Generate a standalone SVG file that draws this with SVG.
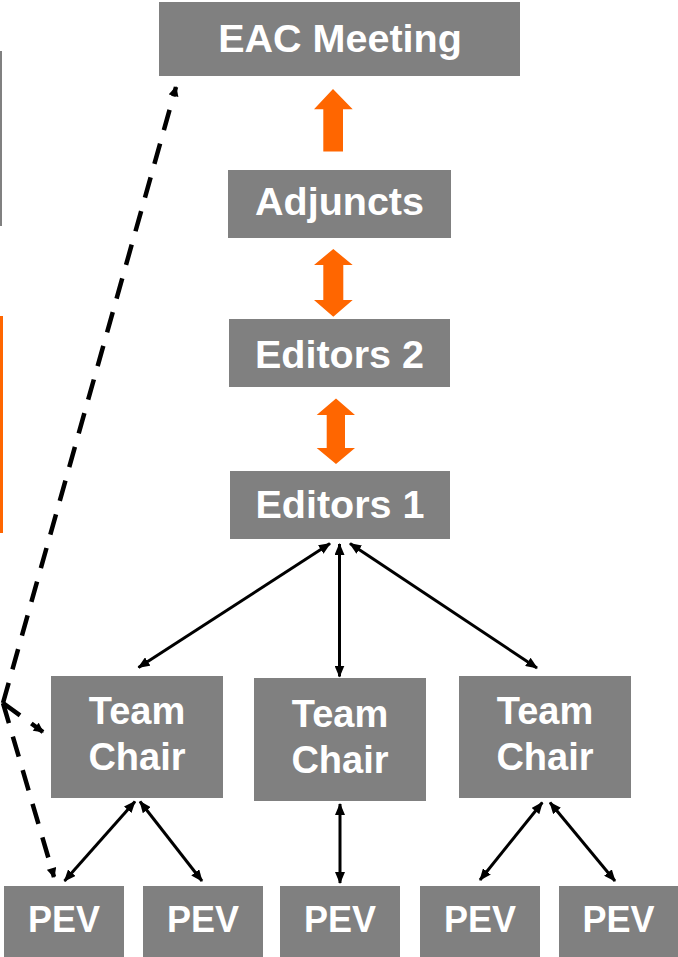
<svg xmlns="http://www.w3.org/2000/svg" width="678" height="957" viewBox="0 0 678 957">
  <style>
    .box { fill: #808080; }
    .lbl { fill: #ffffff; font-family: "Liberation Sans", Arial, sans-serif; font-weight: bold; font-size: 38px; text-anchor: middle; }
    .wide { font-size: 39.5px; }
    .pev { font-size: 36px; }
    .link { stroke: #000000; stroke-width: 3; fill: none; marker-start: url(#head); marker-end: url(#head); }
    .dash { stroke: #000000; stroke-width: 4.5; fill: none; stroke-dasharray: 21 14; }
    .flow { fill: #ff6600; }
  </style>
  <defs>
    <marker id="head" viewBox="0 0 12 10" refX="11" refY="5" markerWidth="12" markerHeight="10" markerUnits="userSpaceOnUse" orient="auto-start-reverse">
      <path d="M0,0 L12,5 L0,10 z" fill="#000000"/>
    </marker>
    <marker id="dhead" viewBox="0 0 10 10" refX="9" refY="5" markerWidth="11" markerHeight="10" markerUnits="userSpaceOnUse" orient="auto">
      <path d="M0,0 L10,5 L0,10 z" fill="#000000"/>
    </marker>
  </defs>

  <!-- side bars at the left edge -->
  <rect x="0" y="51" width="2" height="175" fill="#808080"/>
  <rect x="0" y="316" width="3" height="217" fill="#ff6600"/>

  <!-- nodes -->
  <g id="eac-meeting">
    <rect class="box" x="159" y="2" width="361" height="74"/>
    <text class="lbl wide" x="340" y="52">EAC Meeting</text>
  </g>
  <g id="adjuncts">
    <rect class="box" x="228" y="170" width="223" height="68"/>
    <text class="lbl wide" x="339.5" y="215">Adjuncts</text>
  </g>
  <g id="editors-2">
    <rect class="box" x="229" y="319" width="221" height="68"/>
    <text class="lbl wide" x="339.5" y="368">Editors 2</text>
  </g>
  <g id="editors-1">
    <rect class="box" x="230" y="471" width="220" height="68"/>
    <text class="lbl wide" x="340" y="518">Editors 1</text>
  </g>
  <g id="team-chair-1">
    <rect class="box" x="51" y="676" width="172" height="122"/>
    <text class="lbl" x="137" y="724">Team</text>
    <text class="lbl" x="137" y="770">Chair</text>
  </g>
  <g id="team-chair-2">
    <rect class="box" x="254" y="678" width="172" height="123"/>
    <text class="lbl" x="340" y="727">Team</text>
    <text class="lbl" x="340" y="773">Chair</text>
  </g>
  <g id="team-chair-3">
    <rect class="box" x="459" y="676" width="172" height="122"/>
    <text class="lbl" x="545" y="724">Team</text>
    <text class="lbl" x="545" y="770">Chair</text>
  </g>
  <g id="pev-1">
    <rect class="box" x="4" y="886" width="120" height="71"/>
    <text class="lbl pev" x="64" y="932">PEV</text>
  </g>
  <g id="pev-2">
    <rect class="box" x="143" y="886" width="120" height="71"/>
    <text class="lbl pev" x="203" y="932">PEV</text>
  </g>
  <g id="pev-3">
    <rect class="box" x="280" y="886" width="120" height="71"/>
    <text class="lbl pev" x="340" y="932">PEV</text>
  </g>
  <g id="pev-4">
    <rect class="box" x="420" y="886" width="120" height="71"/>
    <text class="lbl pev" x="480" y="932">PEV</text>
  </g>
  <g id="pev-5">
    <rect class="box" x="559" y="886" width="119" height="71"/>
    <text class="lbl pev" x="618.5" y="932">PEV</text>
  </g>

  <!-- connectors -->
  <g id="connectors">
    <!-- orange block arrows up the chain -->
    <polygon class="flow" points="333,89 352.7,109.3 343,109.3 343,151.5 323.3,151.5 323.3,109.3 314,109.3"/>
    <polygon class="flow" points="333.3,249 352.7,265 343.3,265 343.3,300 352.7,300 333.3,316.7 314,300 323.3,300 323.3,265 314,265"/>
    <polygon class="flow" points="336,398.5 355,415 345,415 345,448 355,448 336,464 316.7,448 326.7,448 326.7,415 316.7,415"/>

    <!-- Editors 1 to team chairs -->
    <line class="link" x1="330" y1="543.5" x2="138.5" y2="667.5"/>
    <line class="link" x1="339.5" y1="544" x2="339.5" y2="676.5"/>
    <line class="link" x1="350" y1="543.5" x2="537" y2="668"/>

    <!-- team chairs to PEVs -->
    <line class="link" x1="135" y1="801.5" x2="64.5" y2="881"/>
    <line class="link" x1="140" y1="801.5" x2="202" y2="881"/>
    <line class="link" x1="340" y1="804" x2="340" y2="883"/>
    <line class="link" x1="542.3" y1="802.5" x2="480" y2="880"/>
    <line class="link" x1="550" y1="802.5" x2="615" y2="881"/>

    <!-- dashed escalation path -->
    <line class="dash" x1="3" y1="703" x2="176" y2="87" marker-end="url(#dhead)"/>
    <line class="dash" x1="3" y1="703" x2="54" y2="877" marker-end="url(#dhead)"/>
    <line class="dash" x1="3" y1="703" x2="43" y2="732" marker-end="url(#dhead)"/>
  </g>
</svg>
